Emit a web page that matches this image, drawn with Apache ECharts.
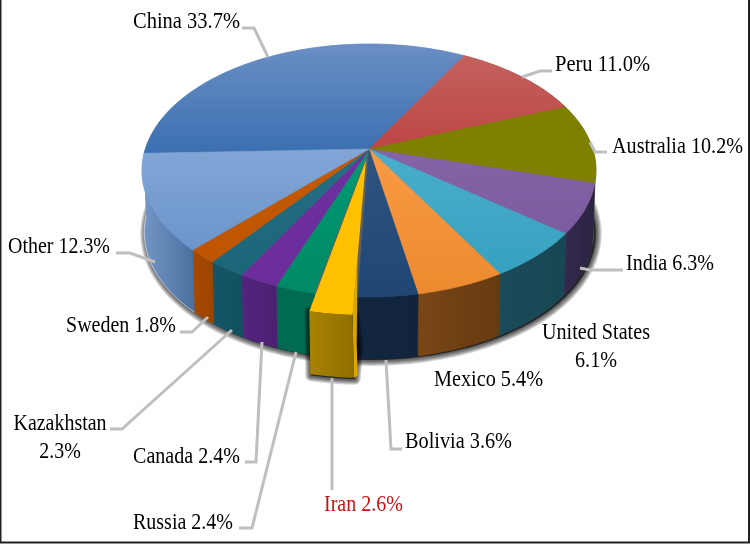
<!DOCTYPE html>
<html><head><meta charset="utf-8">
<style>html,body{margin:0;padding:0;background:#fff}#c{width:750px;height:544px}</style>
<script src="https://cdn.jsdelivr.net/npm/echarts@6/dist/echarts.min.js"></script>
</head><body><div id="c"></div>
<script>
const categories = ['China','Peru','Australia','India','United States','Mexico','Bolivia','Iran','Russia','Canada','Kazakhstan','Sweden','Other'];
const shares = [33.7,11.0,10.2,6.3,6.1,5.4,3.6,2.6,2.4,2.4,2.3,1.8,12.3];
const highlighted = 'Iran';

const topColors = [['#6a8fc4','#3b6fb1'],['#c4625e','#bd4543'],['#808000','#808000'],['#8463a6','#7d5ba0'],['#4aaecb','#36a1c0'],['#f99a45','#ec8a2f'],['#2f5480','#1f4675'],['#ffc000','#ffc000'],['#009a72','#008a66'],['#7030a0','#6a2d9a'],['#266f84','#1b6679'],['#c55a06','#bf5500'],['#82a6d6','#6c95cb']];
const wallColors = [['#7497c6','#7497c6'],['#8a3330','#8a3330'],['#6e6e00','#5a5a00'],['#352a4e','#2b2342'],['#1b4a58','#184754'],['#7a4616','#663a10'],['#12263f','#11243d'],['#a57f00','#957200'],['#006b50','#006b50'],['#542480','#4a2070'],['#145668','#12505f'],['#a84a00','#9c4400'],['#7497c6','#4a6f9f']];

const cx=369, cy=149, R=223.7, S=122.8, K=0.17, DEPTH=62, BOTTOM=0.99, START=178;
function pt(deg, low){
  const a=deg*Math.PI/180, w=1-K*Math.sin(a);
  return [cx+(low?BOTTOM:1)*R*Math.cos(a)/w, cy+S*Math.sin(a)/w+(low?DEPTH:0)];
}
const total=shares.reduce((a,b)=>a+b,0);
const spans=[]; let acc=START;
shares.forEach(v=>{const d=v/total*360; spans.push([acc,acc+d]); acc+=d;});
function arc(a,b,low){const o=[],n=Math.max(2,Math.ceil(Math.abs(b-a)));for(let i=0;i<=n;i++)o.push(pt(a+(b-a)*i/n,low));return o;}
const move=(ps,dx,dy)=>ps.map(p=>[p[0]+dx,p[1]+dy]);
const vg=c=>new echarts.graphic.LinearGradient(0,0,0,1,[{offset:0,color:c[0]},{offset:1,color:c[1]}]);
const hg=c=>new echarts.graphic.LinearGradient(0,0,1,0,[{offset:0,color:c[0]},{offset:1,color:c[1]}]);
const EXPLODE=[-5,18], TIP=[-3,11];
const empty=()=>({type:'group',children:[]});
// soft edge built from stacked translucent outlines
function softShadow(points,dx,dy,steps,alpha){
  const out=[], ps=move(points,dx,dy);
  for(let k=steps;k>=1;k--) out.push({type:'polygon',shape:{points:ps},style:{fill:'rgba(0,0,0,'+alpha+')',stroke:'rgba(0,0,0,'+alpha+')',lineWidth:2*k,lineJoin:'round'}});
  return out;
}

function wallFace(p,api){
  const i=p.dataIndex, [a,b]=spans[i];
  if(categories[i]===highlighted) return empty();
  const pts=arc(a,b,false).concat(arc(a,b,true).reverse());
  const kids=[{type:'polygon',shape:{points:pts},style:{fill:hg(wallColors[i]),stroke:hg(wallColors[i]),lineWidth:.5}}];
  if(i===categories.length-1) kids.push({type:'polyline',shape:{points:arc(a,b,true)},style:{fill:'none',stroke:'rgba(255,255,255,.55)',lineWidth:1}});
  return {type:'group',children:kids};
}
function topFace(p,api){
  const i=p.dataIndex, [a,b]=spans[i];
  if(categories[i]===highlighted) return empty();
  const pts=[[cx,cy]].concat(arc(a,b,false));
  return {type:'polygon',shape:{points:pts},style:{fill:vg(topColors[i]),stroke:vg(topColors[i]),lineWidth:.5}};
}
function exploded(p,api){
  const i=p.dataIndex;
  if(categories[i]!==highlighted) return empty();
  const [a,b]=spans[i];
  const topArc=move(arc(a,b,false),EXPLODE[0],EXPLODE[1]);
  const lowArc=topArc.map(q=>[q[0]+1,q[1]+DEPTH+1]);
  const tip=[cx+TIP[0],cy+TIP[1]];
  const f=topArc[0], l=lowArc[0];
  const mid=[f[0]+(tip[0]-f[0])*.35,f[1]+(tip[1]-f[1])*.35];
  const front=topArc.concat(lowArc.slice().reverse());
  return {type:'group',children:softShadow(front.concat([[f[0]+4,f[1]+30]]),1,1,6,.16).concat([
    {type:'polygon',shape:{points:[f,mid,[f[0]+4,f[1]+30],[l[0]+4,l[1]-2],l]},style:{fill:'#dba600'}},
    {type:'polygon',shape:{points:front},style:{fill:hg(['#a98200','#8f6f00'])}},
    {type:'polygon',shape:{points:[tip].concat(topArc)},style:{fill:'#ffc000'}}
  ])};
}
function baseShadow(p,api){
  if(p.dataIndex) return empty();
  return {type:'group',children:softShadow(arc(0,360,true),2,1,6,.15)};
}

const FONT="24px 'Liberation Serif'";
const ctx=document.createElement('canvas').getContext('2d'); ctx.font=FONT;
// label placement: text box x (left or centre), centre y, fitted width, elbow path
const labelLayout={
 'China':{x:133,y:22,w:107,path:[[242,28],[254,28],[268,57]]},
 'Peru':{x:555,y:65,w:95,path:[[552,71],[540,71],[522,77]]},
 'Australia':{x:612,y:147,w:131,path:[[607,152],[595,152],[590,142]]},
 'India':{x:626,y:264,w:88,path:[[623,270],[590,270],[580,268]]},
 'United States':{x:596,y:333,w:108,center:true,wrap:true,path:null},
 'Mexico':{x:434,y:380,w:109,path:null},
 'Bolivia':{x:405,y:442,w:107,path:[[402,449],[391,449],[386,360]]},
 'Iran':{x:324,y:505,w:79,color:'#cc1111',path:[[332,490],[332,378]]},
 'Russia':{x:133,y:523,w:100,path:[[239,528],[252,528],[296,352]]},
 'Canada':{x:133,y:457,w:107,path:[[245,462],[256,462],[262,342]]},
 'Kazakhstan':{x:60,y:424,w:93,center:true,wrap:true,path:[[110,429],[122,429],[232,330]]},
 'Sweden':{x:66,y:326,w:110,path:[[180,332],[192,332],[208,317]]},
 'Other':{x:8,y:247,w:102,path:[[116,253],[130,253],[155,262]]}
};
function label(p,api){
  const i=p.dataIndex, name=categories[i], L=labelLayout[name], pct=shares[i].toFixed(1)+'%';
  const kids=[];
  if(L.path) kids.push({type:'polyline',shape:{points:L.path},style:{fill:'none',stroke:'#bfbfbf',lineWidth:3}});
  const lines=L.wrap?[name,pct]:[name+' '+pct];
  const sx=L.w/ctx.measureText(lines[0]).width;
  lines.forEach((t,k)=>kids.push({type:'text',x:L.x,y:L.y+k*28,scaleX:sx,style:{text:t,font:FONT,fill:L.color||'#000',align:L.center?'center':'left',verticalAlign:'middle'}}));
  return {type:'group',children:kids};
}
const seriesData=categories.map((n,i)=>({name:n,value:shares[i]}));
const layer=(fn,z)=>({type:'custom',coordinateSystem:'none',renderItem:fn,data:seriesData,z,silent:true,animation:false,clip:false});
const chart=echarts.init(document.getElementById('c'),null,{renderer:'canvas'});
chart.setOption({
  animation:false,backgroundColor:'#fff',
  graphic:[{type:'polyline',z:50,shape:{points:[[0.5,0],[0.5,542.5],[749,542.5],[749,0]]},style:{fill:'none',stroke:'#222',lineWidth:2}}],
  series:[layer(baseShadow,1),layer(wallFace,2),layer(topFace,3),layer(exploded,4),layer(label,5)]
});
</script></body></html>
